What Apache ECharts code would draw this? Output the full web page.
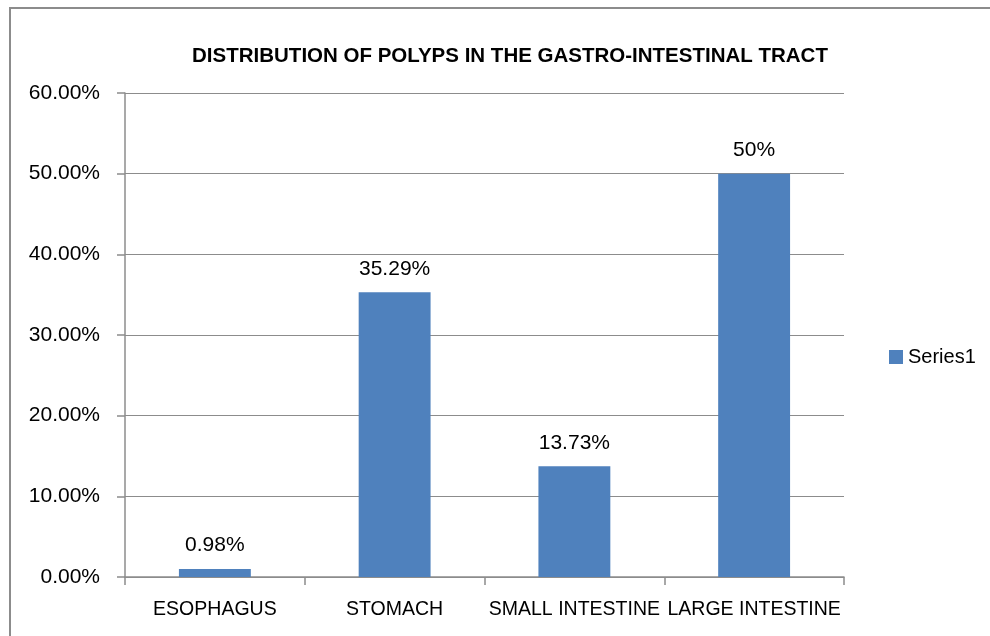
<!DOCTYPE html>
<html><head><meta charset="utf-8">
<script src="https://cdn.jsdelivr.net/npm/echarts@6/dist/echarts.min.js"></script>
<style>html,body{margin:0;padding:0;background:#fff}#c{width:990px;height:636px}</style>
</head><body><div id="c"></div>
<script>
const categories = ['ESOPHAGUS', 'STOMACH', 'SMALL INTESTINE', 'LARGE INTESTINE'];
const values = [0.98, 35.29, 13.73, 50];
const valueLabels = ['0.98%', '35.29%', '13.73%', '50%'];
const seriesName = 'Series1';
const titleText = 'DISTRIBUTION OF POLYPS IN THE GASTRO-INTESTINAL TRACT';
const FONT = 'Liberation Sans';

const chart = echarts.init(document.getElementById('c'));
chart.setOption({
  animation: false,
  textStyle: { fontFamily: FONT },
  graphic: [{
    type: 'rect', shape: { x: 10, y: 8, width: 1000, height: 650 },
    style: { fill: 'none', stroke: '#8c8c8c', lineWidth: 2 }, silent: true, z: -1
  }],
  title: {
    text: titleText, left: 505, top: 41, textAlign: 'center',
    textStyle: { fontFamily: FONT, fontSize: 20.5, fontWeight: 'bold', color: '#000' }
  },
  legend: {
    data: [seriesName], orient: 'vertical', left: 884, top: 342, icon: 'rect',
    itemWidth: 14, itemHeight: 14, itemGap: 5,
    textStyle: { fontFamily: FONT, fontSize: 20, color: '#000' }
  },
  grid: { left: 125, right: 146, top: 93, bottom: 59, containLabel: false },
  xAxis: {
    type: 'category', data: categories,
    axisLine: { lineStyle: { color: '#8c8c8c', width: 1.5 } },
    axisTick: { show: true, length: 8, lineStyle: { color: '#8c8c8c', width: 1.5 } },
    axisLabel: { color: '#000', fontSize: 19.5, margin: 23, interval: 0 }
  },
  yAxis: {
    type: 'value', min: 0, max: 60, interval: 10,
    axisLine: { show: true, lineStyle: { color: '#8c8c8c', width: 1.5 } },
    axisTick: { show: true, length: 8, lineStyle: { color: '#8c8c8c', width: 1.5 } },
    splitLine: { lineStyle: { color: '#8c8c8c', width: 1.2 } },
    axisLabel: { color: '#000', fontSize: 21, margin: 25, formatter: v => v.toFixed(2) + '%' }
  },
  series: [{
    name: seriesName, type: 'bar', data: values, barWidth: '40%',
    itemStyle: { color: '#4F81BD' },
    label: {
      show: true, position: 'top', distance: 13, color: '#000', fontSize: 21,
      formatter: p => valueLabels[p.dataIndex]
    }
  }]
});
</script></body></html>
